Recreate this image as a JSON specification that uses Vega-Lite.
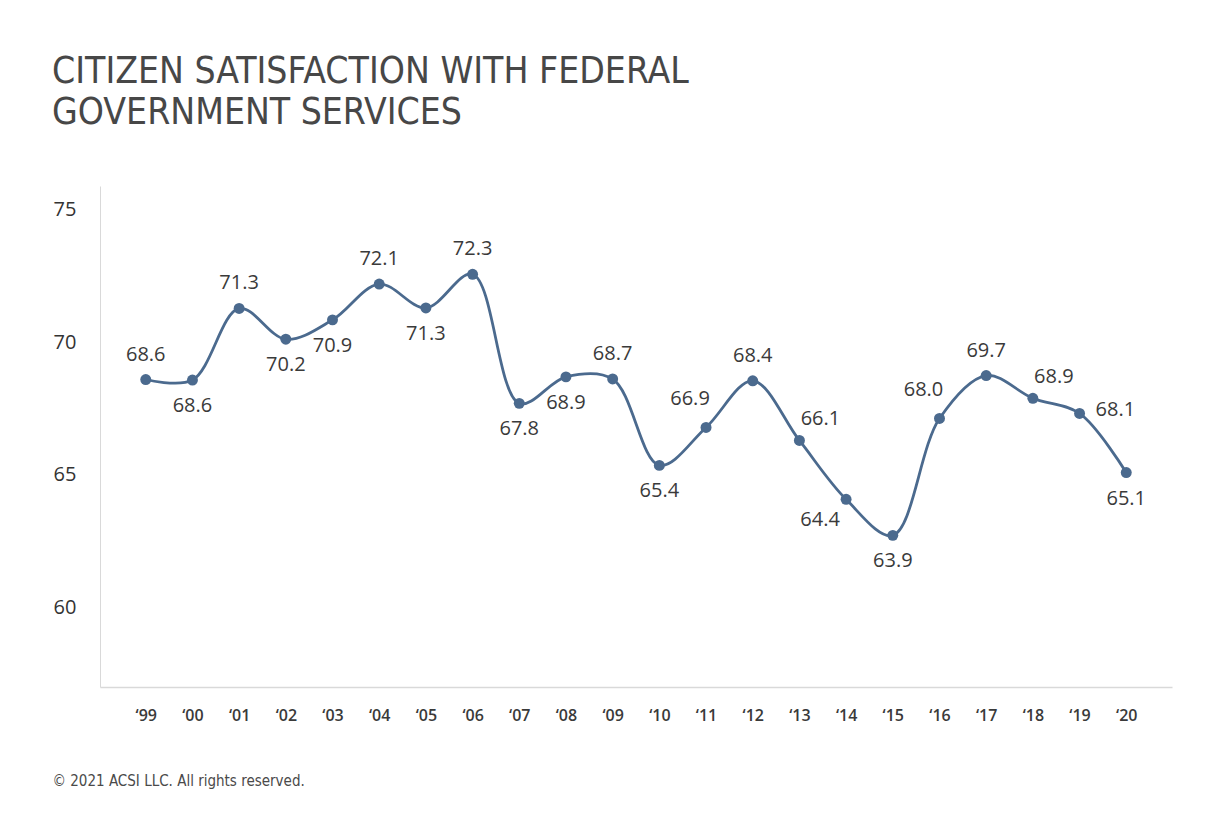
{
  "$schema": "https://vega.github.io/schema/vega-lite/v6.json",
  "width": 1072,
  "height": 501,
  "autosize": {"type": "none"},
  "padding": {"left": 100, "top": 186, "right": 40, "bottom": 146},
  "background": "#ffffff",
  "title": {
    "text": ["CITIZEN SATISFACTION WITH FEDERAL", "GOVERNMENT SERVICES"],
    "anchor": "start",
    "frame": "group",
    "dx": -48,
    "offset": 54,
    "font": "Liberation Sans Narrow, DejaVu Sans Condensed, Roboto",
    "fontSize": 37,
    "fontWeight": "normal",
    "lineHeight": 41,
    "color": "#474747"
  },
  "config": {
    "view": {"stroke": null},
    "font": "Open Sans"
  },
  "data": {
    "values": [
      {"year": "‘99", "plotted": 68.6, "score": "68.6", "placement": "above"},
      {"year": "‘00", "plotted": 68.58, "score": "68.6", "placement": "below"},
      {"year": "‘01", "plotted": 71.28, "score": "71.3", "placement": "above"},
      {"year": "‘02", "plotted": 70.12, "score": "70.2", "placement": "below"},
      {"year": "‘03", "plotted": 70.85, "score": "70.9", "placement": "below"},
      {"year": "‘04", "plotted": 72.2, "score": "72.1", "placement": "above"},
      {"year": "‘05", "plotted": 71.3, "score": "71.3", "placement": "below"},
      {"year": "‘06", "plotted": 72.57, "score": "72.3", "placement": "above"},
      {"year": "‘07", "plotted": 67.7, "score": "67.8", "placement": "below"},
      {"year": "‘08", "plotted": 68.7, "score": "68.9", "placement": "below"},
      {"year": "‘09", "plotted": 68.62, "score": "68.7", "placement": "above"},
      {"year": "‘10", "plotted": 65.36, "score": "65.4", "placement": "below"},
      {"year": "‘11", "plotted": 66.79, "score": "66.9", "placement": "above-left"},
      {"year": "‘12", "plotted": 68.55, "score": "68.4", "placement": "above"},
      {"year": "‘13", "plotted": 66.3, "score": "66.1", "placement": "above-right"},
      {"year": "‘14", "plotted": 64.08, "score": "64.4", "placement": "below-left"},
      {"year": "‘15", "plotted": 62.72, "score": "63.9", "placement": "below"},
      {"year": "‘16", "plotted": 67.13, "score": "68.0", "placement": "above-left"},
      {"year": "‘17", "plotted": 68.75, "score": "69.7", "placement": "above"},
      {"year": "‘18", "plotted": 67.89, "score": "68.9", "placement": "above-right"},
      {"year": "‘19", "plotted": 67.32, "score": "68.1", "placement": "right"},
      {"year": "‘20", "plotted": 65.09, "score": "65.1", "placement": "below"}
    ]
  },
  "encoding": {
    "x": {
      "field": "year",
      "type": "ordinal",
      "sort": null,
      "scale": {"type": "point", "padding": 0.98},
      "axis": {
        "title": "© 2021 ACSI LLC. All rights reserved.",
        "titleAnchor": "start",
        "titleAlign": "left",
        "titleBaseline": "middle",
        "titleX": -48,
        "titleY": 93,
        "titleFont": "Liberation Sans Narrow, DejaVu Sans Condensed, Roboto",
        "titleFontSize": 15,
        "titleFontWeight": "normal",
        "titleColor": "#4a4a4a",
        "labelAngle": 0,
        "labelFont": "Open Sans",
        "labelFontSize": 16,
        "labelFontWeight": 600,
        "labelColor": "#3a3a3a",
        "labelPadding": 20,
        "ticks": false,
        "domainColor": "#d9d9d9",
        "domainWidth": 1.5,
        "grid": false
      }
    },
    "y": {
      "field": "plotted",
      "type": "quantitative",
      "scale": {"domain": [57, 75.9], "nice": false, "zero": false},
      "axis": {
        "title": null,
        "values": [60, 65, 70, 75],
        "labelAlign": "left",
        "labelPadding": 47,
        "labelFont": "Open Sans",
        "labelFontSize": 20,
        "labelFontWeight": 500,
        "labelColor": "#333333",
        "ticks": false,
        "grid": false,
        "domainColor": "#d9d9d9",
        "domainWidth": 1
      }
    }
  },
  "layer": [
    {
      "mark": {"type": "line", "interpolate": "catmull-rom", "color": "#4b6a8e", "strokeWidth": 2.8}
    },
    {
      "mark": {"type": "point", "filled": true, "opacity": 1, "size": 120, "color": "#4b6a8e"}
    },
    {
      "transform": [{"filter": "datum.placement === 'above'"}],
      "mark": {"type": "text", "dy": -25, "fontSize": 20, "fontWeight": 500, "color": "#3a3a3a", "font": "Open Sans"},
      "encoding": {"text": {"field": "score"}}
    },
    {
      "transform": [{"filter": "datum.placement === 'below'"}],
      "mark": {"type": "text", "dy": 26, "fontSize": 20, "fontWeight": 500, "color": "#3a3a3a", "font": "Open Sans"},
      "encoding": {"text": {"field": "score"}}
    },
    {
      "transform": [{"filter": "datum.placement === 'above-left'"}],
      "mark": {"type": "text", "dx": -16, "dy": -28, "fontSize": 20, "fontWeight": 500, "color": "#3a3a3a", "font": "Open Sans"},
      "encoding": {"text": {"field": "score"}}
    },
    {
      "transform": [{"filter": "datum.placement === 'above-right'"}],
      "mark": {"type": "text", "dx": 21, "dy": -21, "fontSize": 20, "fontWeight": 500, "color": "#3a3a3a", "font": "Open Sans"},
      "encoding": {"text": {"field": "score"}}
    },
    {
      "transform": [{"filter": "datum.placement === 'below-left'"}],
      "mark": {"type": "text", "dx": -26, "dy": 21, "fontSize": 20, "fontWeight": 500, "color": "#3a3a3a", "font": "Open Sans"},
      "encoding": {"text": {"field": "score"}}
    },
    {
      "transform": [{"filter": "datum.placement === 'right'"}],
      "mark": {"type": "text", "align": "left", "dx": 16, "dy": -3, "fontSize": 20, "fontWeight": 500, "color": "#3a3a3a", "font": "Open Sans"},
      "encoding": {"text": {"field": "score"}}
    }
  ]
}
